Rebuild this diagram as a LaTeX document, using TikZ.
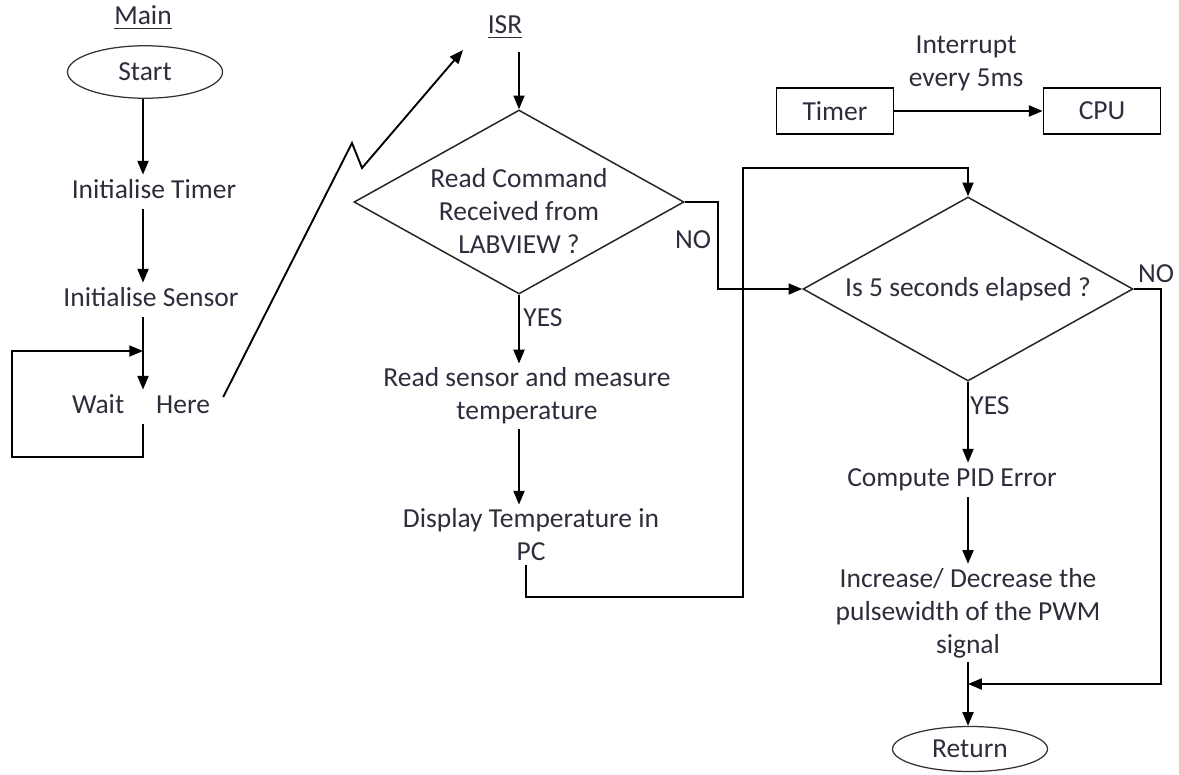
\documentclass[tikz,border=0pt]{standalone}
\usepackage{fontspec}
\setmainfont{Carlito}
\usetikzlibrary{shapes.geometric,arrows.meta}
\definecolor{ink}{RGB}{45,45,60}
\newcommand{\flowfont}{\fontsize{11}{13.2}\selectfont}
\begin{document}
\begin{tikzpicture}[x=0.4pt,y=-0.4pt]
	\tikzstyle{Words} = [inner sep=1.5pt, text=ink, font=\flowfont, text height=8pt, text depth=2.5pt]
	\tikzstyle{Lines} = [inner sep=1.5pt, text=ink, font=\flowfont, align=center]
	\tikzstyle{Term} = [ellipse, draw=black!80, line width=0.5pt, minimum width=62pt, minimum height=21pt, inner sep=0pt, text=ink, font=\flowfont]
	\tikzstyle{Box} = [rectangle, draw=black, line width=0.7pt, minimum width=46.8pt, minimum height=18.4pt, text=ink, font=\flowfont]
	\tikzstyle{Decision} = [diamond, draw=black!85, line width=0.6pt, minimum width=132pt, minimum height=73.6pt, inner sep=0pt, aspect=1.8, text=ink, font=\flowfont]
	\tikzstyle{arrow} = [line width=0.75pt, black, -{Triangle[length=5.5pt,width=4.4pt]}]
	
	\useasboundingbox (0,0) rectangle (1179,774);
	
	% main loop
	\node (main) [Words] at (143,18) {\underline{Main}};
	\node (start) [Term] at (145,72) {Start};
	\node (itimer) [Words] at (154,192) {Initialise Timer};
	\node (isensor) [Words] at (151,300) {Initialise Sensor};
	\node (wait) [Words] at (141,407) {Wait\hspace{12.8pt}Here};
	\coordinate (spine) at (143,0);
	\coordinate (loopbl) at (12,457);
	\coordinate (loopin) at (143,351);
	\coordinate (zigA) at (352,143);
	\coordinate (zigB) at (362,168);
	\coordinate (isrin) at (463,50);
	
	\draw [arrow] (spine |- start.south) -- (spine |- itimer.north);
	\draw [arrow] (spine |- itimer.south) -- (spine |- isensor.north);
	\draw [arrow] (spine |- isensor.south) -- (spine |- wait.north);
	\draw [arrow] (spine |- wait.south) |- (loopbl) |- (loopin);
	\draw [arrow] ([shift={(9,-10)}]wait.east) -- (zigA) -- (zigB) -- (isrin);
	
	% ISR
	\node (isr) [Words] at (505,27) {\underline{ISR}};
	\node (d1) [Decision] at (519,202) {};
	\node (d1text) [Lines] at (519,211) {Read Command\\Received from\\LABVIEW ?};
	\node (no1) [Words] at (693,242) {NO};
	\node (yes1) [Words] at (543,320) {YES};
	\node (sensor) [Lines] at (527,396) {Read sensor and measure\\temperature};
	\node (display) [Lines] at (531,535) {Display Temperature in\\PC};
	\coordinate (backbot) at (743,597);
	\coordinate (backtop) at (743,168);
	
	\draw [arrow] ([yshift=-3pt]d1 |- isr.south) -- (d1.north);
	\draw [arrow] (d1.south) -- (d1 |- sensor.north);
	\draw [arrow] (d1 |- sensor.south) -- (d1 |- display.north);
	
	% timer
	\node (timer) [Box] at (835,111) {Timer};
	\node (cpu) [Box] at (1102,111) {CPU};
	\node (irq) [Lines] at (966,63) {Interrupt\\every 5ms};
	\draw [arrow] (timer) -- (cpu);
	
	% 5 s check
	\node (d2) [Decision] at (968,289) {Is 5 seconds elapsed ?};
	\node (no2) [Words] at (1156,276) {NO};
	\node (yes2) [Words] at (990,408) {YES};
	\node (pid) [Words] at (952,480) {Compute PID Error};
	\node (pwm) [Lines] at (968,613) {Increase/ Decrease the\\pulsewidth of the PWM\\signal};
	\coordinate (join) at (968,684);
	\node (ret) [Term, minimum height=18pt] at (970,749) {Return};
	
	\draw [arrow] (d1.east) -- ++(33,0) |- (d2.west);
	\draw [arrow] ([xshift=-2pt]display.south) |- (backbot) -- (backtop) -| (d2.north);
	\draw [arrow] (d2.south) -- (d2.south |- pid.north);
	\draw [arrow] (d2 |- pid.south) -- (d2 |- pwm.north);
	\draw [arrow] (d2 |- pwm.south) -- (d2 |- ret.north);
	\draw [arrow] (d2.east) -- ++(27,0) |- (join);
\end{tikzpicture}
\end{document}
